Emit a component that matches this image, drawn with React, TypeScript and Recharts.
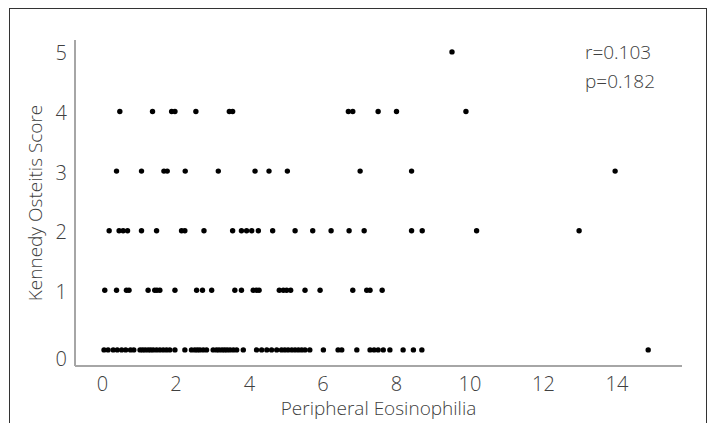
import { ScatterChart, Scatter, XAxis, YAxis } from 'recharts'

// eosinophilia values for each osteitis score row
const score0 = [
    0.04, 0.15, 0.29, 0.4, 0.52, 0.63, 0.76, 0.85, 1.02, 1.09, 1.16, 1.24, 1.31, 1.38, 1.47, 1.56,
    1.65, 1.74, 1.83, 1.97, 2.24, 2.42, 2.51, 2.58, 2.65, 2.74, 2.83, 3.01, 3.1, 3.17, 3.25, 3.32,
    3.39, 3.47, 3.56, 3.65, 3.83, 4.19, 4.33, 4.47, 4.6, 4.74, 4.87, 4.96, 5.05, 5.15, 5.24, 5.33,
    5.42, 5.51, 5.64, 6.01, 6.41, 6.51, 6.92, 7.28, 7.39, 7.5, 7.64, 7.82, 8.18, 8.46, 8.69, 14.85,
]
const score1 = [
    0.06, 0.38, 0.65, 0.72, 1.24, 1.42, 1.48, 1.56, 1.97, 2.56, 2.72, 2.97, 3.6, 3.78, 4.1, 4.19,
    4.26, 4.81, 4.92, 5.01, 5.12, 5.51, 5.92, 6.81, 7.19, 7.28, 7.61,
]
const score2 = [
    0.18, 0.45, 0.56, 0.68, 1.06, 1.47, 2.15, 2.24, 2.76, 3.54, 3.78, 3.92, 4.06, 4.24, 4.63, 5.24,
    5.72, 6.22, 6.71, 7.12, 8.41, 8.7, 10.18, 12.97,
]
const score3 = [0.38, 1.06, 1.67, 1.76, 2.25, 3.15, 4.15, 4.53, 5.03, 7.01, 8.41, 13.95]
const score4 = [0.47, 1.36, 1.88, 1.97, 2.54, 3.45, 3.54, 6.69, 6.81, 7.5, 8.0, 9.89]
const score5 = [9.51]

const xTicks = [0, 2, 4, 6, 8, 10, 12, 14]
const yTicks = [0, 1, 2, 3, 4, 5]
const stats = ['r=0.103', 'p=0.182']

const rows = [score0, score1, score2, score3, score4, score5]
const points = rows.flatMap((xs, score) => xs.map((eos) => ({ eos, score })))

const font = "'Open Sans', sans-serif"
const textColor = '#404040'
const axisColor = '#a6a6a6'

const Dot = (props) => <circle cx={props.cx} cy={props.cy} r={2.7} fill="#000" />

// the zero label sits a little below its row in the original
const YTick = ({ x, y, payload }) => (
    <text
        x={x}
        y={y + (payload.value === 0 ? 9 : 1)}
        textAnchor="end"
        dominantBaseline="central"
        fill={textColor}
        fontSize={20}
        fontFamily={font}
        fontWeight={300}
    >
        {payload.value}
    </text>
)

export default function App() {
    return (
        <div style={{ position: 'absolute', left: 0, top: 0, width: 712, height: 423, overflow: 'hidden', background: '#fff' }}>
            <div
                style={{
                    position: 'absolute',
                    left: 9,
                    top: 8,
                    width: 698,
                    height: 440,
                    border: '1.5px solid #333',
                    boxSizing: 'border-box',
                }}
            />
            <ScatterChart width={712} height={423} margin={{ top: 40, right: 30, left: 0, bottom: 0 }}>
                <XAxis
                    type="number"
                    dataKey="eos"
                    domain={[-0.75, 15.77]}
                    ticks={xTicks}
                    tickLine={false}
                    tickMargin={5}
                    height={57}
                    axisLine={{ stroke: axisColor, strokeWidth: 2 }}
                    tick={{ fill: textColor, fontSize: 20, fontFamily: font, fontWeight: 300 }}
                    label={{
                        value: 'Peripheral Eosinophilia',
                        position: 'insideBottom',
                        offset: 8,
                        fill: textColor,
                        fontSize: 19,
                        fontFamily: font,
                        fontWeight: 300,
                    }}
                />
                <YAxis
                    type="number"
                    dataKey="score"
                    domain={[-0.27, 5.2]}
                    ticks={yTicks}
                    tickLine={false}
                    width={75}
                    axisLine={{ stroke: axisColor, strokeWidth: 2 }}
                    tick={YTick}
                    label={{
                        value: 'Kennedy Osteitis Score',
                        angle: -90,
                        position: 'insideLeft',
                        offset: 35,
                        style: { textAnchor: 'middle' },
                        fill: textColor,
                        fontSize: 19,
                        fontFamily: font,
                        fontWeight: 300,
                    }}
                />
                <Scatter data={points} shape={Dot} isAnimationActive={false} />
            </ScatterChart>
            {stats.map((s, i) => (
                <div
                    key={s}
                    style={{
                        position: 'absolute',
                        left: 585,
                        top: 38 + i * 29,
                        fontFamily: font,
                        fontWeight: 300,
                        fontSize: 19,
                        color: textColor,
                        lineHeight: '28px',
                    }}
                >
                    {s}
                </div>
            ))}
        </div>
    )
}
